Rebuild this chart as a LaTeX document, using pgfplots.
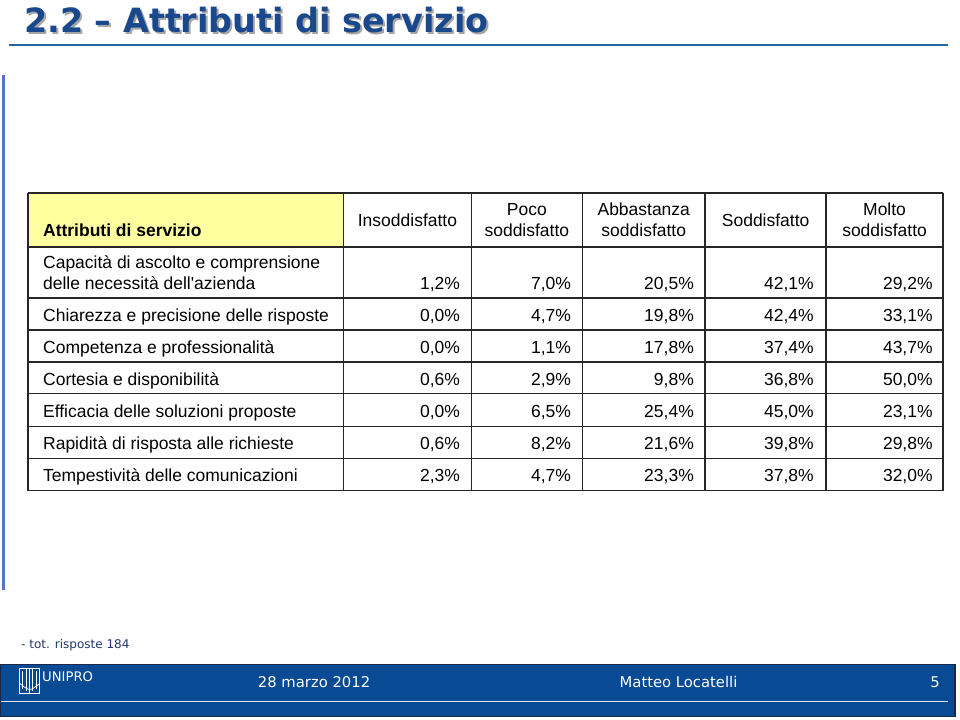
\documentclass[border=0pt]{standalone}
\usepackage{pgfplots}
\pgfplotsset{compat=1.18}
\usepackage{pgfplotstable}
\usepackage{fontspec}
\setmainfont{Liberation Sans}
\newfontfamily\tabfont{Liberation Sans}
\newfontfamily\verd{DejaVu Sans}
\definecolor{titleblue}{RGB}{26,72,140}
\definecolor{footblue}{RGB}{8,74,148}
\definecolor{footedge}{RGB}{25,40,75}
\definecolor{lineblue}{RGB}{40,100,160}
\definecolor{sideblue}{RGB}{85,115,200}
\definecolor{hdryellow}{RGB}{255,255,160}
\definecolor{noteblue}{RGB}{30,55,110}

\pgfplotstableread{
row y c1 c2 c3 c4 c5
1 290 1.2 7.0 20.5 42.1 29.2
2 322 0.0 4.7 19.8 42.4 33.1
3 354 0.0 1.1 17.8 37.4 43.7
4 386 0.6 2.9 9.8 36.8 50.0
5 418 0.0 6.5 25.4 45.0 23.1
6 450 0.6 8.2 21.6 39.8 29.8
7 482 2.3 4.7 23.3 37.8 32.0
}\datatable

\newcommand{\tf}{\tabfont\fontsize{8.75}{10.5}\selectfont}

\pgfplotsset{
  valcol/.style={draw=none, mark=none,
    point meta=explicit,
    nodes near coords={\pgfmathprintnumber[fixed,fixed zerofill,precision=1,use comma]{\pgfplotspointmeta}\%},
    nodes near coords align={anchor=base east},
    every node near coord/.append style={font=\tf, inner sep=0pt, text=black}}
}

\begin{document}
\begin{tikzpicture}
\begin{axis}[
  x=0.5pt, y=0.5pt, y dir=reverse,
  xmin=0, xmax=960, ymin=0, ymax=720,
  hide axis, clip=false,
  /pgf/number format/assume math mode=true,
]
% background
\fill[white] (0,0) rectangle (960,720);

% title
\node[anchor=base west, inner sep=0pt, text=black!35, font=\verd\bfseries\fontsize{16.7}{20}\selectfont] at (25,35) {2.2 – Attributi di servizio};
\node[anchor=base west, inner sep=0pt, text=titleblue, font=\verd\bfseries\fontsize{16.7}{20}\selectfont] at (23,33) {2.2 – Attributi di servizio};
\draw[lineblue, line width=0.8pt] (8,45) -- (948,45);

% left vertical line
\draw[sideblue, line width=1.3pt] (3,75) -- (3,590);

% table header background
\fill[hdryellow] (27,193) rectangle (343,247);

% table grid
\pgfplotsinvokeforeach{193,247,298,330,362,394,427,459,491}{
  \draw[black!85, line width=0.8pt] (27,#1) -- (943,#1);
}
\pgfplotsinvokeforeach{27,343,471,582,705,826,943}{
  \draw[black!85, line width=0.8pt] (#1,193) -- (#1,491);
}

% header texts
\node[anchor=base west, inner sep=0pt, font=\tf\bfseries] at (42,237) {Attributi di servizio};
\node[anchor=base, inner sep=0pt, font=\tf] at (407,227) {Insoddisfatto};
\node[anchor=base, inner sep=0pt, font=\tf] at (526.5,216) {Poco};
\node[anchor=base, inner sep=0pt, font=\tf] at (526.5,237) {soddisfatto};
\node[anchor=base, inner sep=0pt, font=\tf] at (643.5,216) {Abbastanza};
\node[anchor=base, inner sep=0pt, font=\tf] at (643.5,237) {soddisfatto};
\node[anchor=base, inner sep=0pt, font=\tf] at (765.5,227) {Soddisfatto};
\node[anchor=base, inner sep=0pt, font=\tf] at (884.5,216) {Molto};
\node[anchor=base, inner sep=0pt, font=\tf] at (884.5,237) {soddisfatto};

% row labels
\node[anchor=base west, inner sep=0pt, font=\tf] at (42,269) {Capacità di ascolto e comprensione};
\node[anchor=base west, inner sep=0pt, font=\tf] at (42,290) {delle necessità dell'azienda};
\node[anchor=base west, inner sep=0pt, font=\tf] at (42,322) {Chiarezza e precisione delle risposte};
\node[anchor=base west, inner sep=0pt, font=\tf] at (42,354) {Competenza e professionalità};
\node[anchor=base west, inner sep=0pt, font=\tf] at (42,386) {Cortesia e disponibilità};
\node[anchor=base west, inner sep=0pt, font=\tf] at (42,418) {Efficacia delle soluzioni proposte};
\node[anchor=base west, inner sep=0pt, font=\tf] at (42,450) {Rapidità di risposta alle richieste};
\node[anchor=base west, inner sep=0pt, font=\tf] at (42,482) {Tempestività delle comunicazioni};

% values
\addplot[valcol] table[x expr=460, y=y, meta=c1] {\datatable};
\addplot[valcol] table[x expr=571, y=y, meta=c2] {\datatable};
\addplot[valcol] table[x expr=694, y=y, meta=c3] {\datatable};
\addplot[valcol] table[x expr=814, y=y, meta=c4] {\datatable};
\addplot[valcol] table[x expr=933, y=y, meta=c5] {\datatable};

% note
\node[anchor=base west, inner sep=0pt, text=noteblue, font=\verd\fontsize{6}{7}\selectfont] at (20,649) {- tot. risposte 184};

% footer bar
\fill[footblue, draw=footedge, line width=0.6pt] (0,665) rectangle (955,717);
\draw[white!85!footblue, line width=0.8pt] (0,702) -- (948,702);
\node[anchor=base west, inner sep=0pt, text=white, font=\verd\fontsize{7.4}{9}\selectfont] at (257,688) {28 marzo 2012};
\node[anchor=base west, inner sep=0pt, text=white, font=\verd\fontsize{7.4}{9}\selectfont] at (619,688) {Matteo Locatelli};
\node[anchor=base west, inner sep=0pt, text=white, font=\verd\fontsize{7.4}{9}\selectfont] at (930,688) {5};
\node[anchor=base west, inner sep=0pt, text=white, font=\verd\fontsize{6.6}{8}\selectfont] at (41,682) {UNIPRO};
% simple logo emblem
\draw[white, line width=0.35pt] (19,669) rectangle (39,694);
\draw[white, line width=0.35pt] (22,672) -- (22,690) (26,670) -- (26,692) (29,669) -- (29,694) (32,670) -- (32,692) (36,672) -- (36,690);
\draw[white, line width=0.35pt] (19,684) .. controls (29,692) .. (39,684);
\end{axis}
\end{tikzpicture}
\end{document}
